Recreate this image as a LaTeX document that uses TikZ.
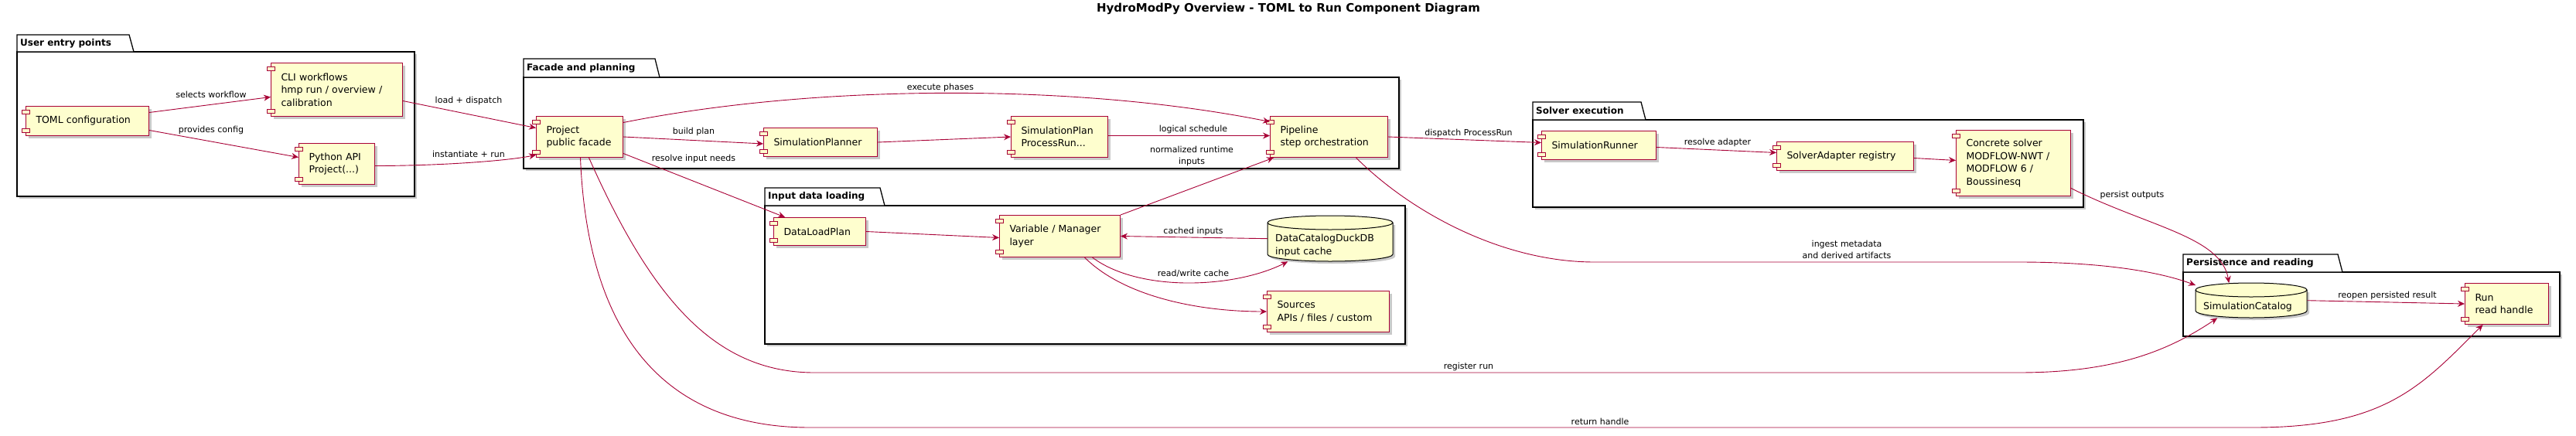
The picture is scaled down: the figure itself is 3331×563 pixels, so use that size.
\documentclass[tikz,border=0pt]{standalone}
\usepackage{fontspec}
\setmainfont{DejaVu Sans}
\usetikzlibrary{arrows.meta,shadows,calc}
\definecolor{pborder}{HTML}{A80036}
\definecolor{pfill}{HTML}{FEFECE}
\tikzset{
  shd/.style={drop shadow={shadow xshift=3pt,shadow yshift=-3pt,opacity=.35,fill=black!60}},
  comp/.style={draw=pborder,fill=pfill,line width=1pt,shd,inner xsep=13pt,inner ysep=0pt,align=left,
     font=\fontsize{12.5}{16.5}\selectfont},
  stub/.style={draw=pborder,fill=pfill,line width=.8pt},
  dbs/.style={draw=black,fill=pfill,line width=1pt},
  pk/.style={draw=black,fill=white,line width=1.3pt},
  lbl/.style={font=\fontsize{11}{15}\selectfont,align=center,inner sep=0pt},
  ar/.style={draw=pborder,line width=.9pt,-{Stealth[length=9pt,width=8pt,inset=3pt]}},
  pt/.style={font=\bfseries\fontsize{12}{14}\selectfont,anchor=west,inner sep=0pt}
}
\newcommand{\comp}[6]{%
  \node[comp,anchor=north west,minimum width={(#4-#2)*1pt},minimum height={(#5-#3)*1pt},
        text width={(#4-#2-26)*1pt}] (#1) at (#2,#3) {#6};
  \draw[stub] ($(#1.north west)+(-5pt,-5pt)$) rectangle ($(#1.north west)+(5pt,-10pt)$);
  \draw[stub] ($(#1.south west)+(-5pt,10pt)$) rectangle ($(#1.south west)+(5pt,5pt)$);
}
\newcommand{\dbnode}[7]{% name x1 y1 x2 y2 text shift
  \pgfmathsetmacro{\rx}{(#4-#2)/2}
  \fill[black!60,opacity=.35] (#2+3,#3+12) -- (#2+3,#5-6) arc[start angle=180,end angle=360,x radius=\rx pt,y radius=9pt] -- (#4+3,#3+12) -- cycle;
  \draw[dbs] (#2,#3+9) -- (#2,#5-9) arc[start angle=180,end angle=360,x radius=\rx pt,y radius=9pt]
     -- (#4,#3+9) arc[start angle=0,end angle=180,x radius=\rx pt,y radius=9pt] -- cycle;
  \draw[dbs,fill=none] (#2,#3+9) arc[start angle=180,end angle=360,x radius=\rx pt,y radius=9pt];
  \node[inner sep=0pt,anchor=north west,minimum width={(#4-#2)*1pt},minimum height={(#5-#3)*1pt}] (#1) at (#2,#3) {};
  \node[align=left,inner sep=0pt,font=\fontsize{12.5}{16.5}\selectfont,anchor=west] at ($(#1.west)+(10pt,-#7pt)$) {#6};
}
\newcommand{\pkg}[7]{% x1 ytab ytop x2 y2 xtab title
  \draw[pk,shd] (#1,#3) rectangle (#4,#5);
  \draw[pk] (#1,#3) -- (#1,#2) -- (#6-6,#2) -- (#6,#3) -- cycle;
  \node[pt] at (#1+4,{(#2+#3)/2}) {#7};
}
\begin{document}
\begin{tikzpicture}[x=1pt,y=-1pt]
\useasboundingbox (0,0) rectangle (3331,563);
\node[font=\bfseries\fontsize{15}{18}\selectfont] (title) at (1666,11) {HydroModPy Overview - TOML to Run Component Diagram};

\pkg{22}{45}{67}{536}{254}{173}{User entry points}
\pkg{677}{76}{100}{1809}{218}{853}{Facade and planning}
\pkg{989}{243}{266}{1817}{445}{1144}{Input data loading}
\pkg{1982}{132}{155}{2694}{268}{2128}{Solver execution}
\pkg{2823}{329}{352}{3310}{435}{3029}{Persistence and reading}

\comp{toml}{33}{137}{192}{175}{TOML configuration}
\comp{cli}{350}{81}{520}{150}{CLI workflows\\hmp run / overview /\\calibration}
\comp{py}{386}{185}{484}{238}{Python API\\Project(...)}
\comp{proj}{693}{150}{805}{203}{Project\\public facade}
\comp{plnr}{987}{165}{1134}{202}{SimulationPlanner}
\comp{splan}{1307}{150}{1432}{203}{SimulationPlan\\ProcessRun...}
\comp{pipe}{1642}{150}{1794}{203}{Pipeline\\step orchestration}
\comp{dlp}{1000}{281}{1119}{317}{DataLoadPlan}
\comp{var}{1292}{278}{1448}{332}{Variable / Manager\\layer}
\dbnode{duck}{1639}{279}{1801}{338}{DataCatalogDuckDB\\input cache}{9}
\comp{src}{1638}{376}{1796}{429}{Sources\\APIs / files / custom}
\comp{runner}{1993}{169}{2141}{206}{SimulationRunner}
\comp{adapt}{2297}{183}{2474}{220}{SolverAdapter registry}
\comp{solver}{2529}{168}{2677}{253}{Concrete solver\\MODFLOW-NWT /\\MODFLOW 6 /\\Boussinesq}
\dbnode{cat}{2839}{366}{2983}{411}{SimulationCatalog}{8}
\comp{run}{3187}{366}{3295}{419}{Run\\read handle}

\coordinate (ing1) at (2062,339);
\coordinate (ing2) at (2610,339);
\coordinate (reg1) at (1053,482);
\coordinate (reg2) at (2610,482);
\coordinate (ret1) at (1047,553);
\coordinate (ret2) at (2914,553);

\draw[ar] ([yshift=11pt]toml.east) -- ([yshift=-9.5pt]cli.west);
\draw[ar] ([yshift=-12pt]toml.east) -- ([yshift=8.5pt]py.west);
\draw[ar] ([yshift=-14.5pt]cli.east) -- ([yshift=11.5pt]proj.west);
\draw[ar] ([yshift=-2.5pt]py.east) .. controls +(80pt,0pt) and +(-40pt,-8pt) .. ([yshift=-23.5pt]proj.west);
\draw[ar] (proj.east) -- ([yshift=-2pt]plnr.west);
\draw[ar] (plnr.east) -- (splan.west);
\draw[ar] ([yshift=1.5pt]splan.east) -- ([yshift=1.5pt]pipe.west);
\draw[ar] ([yshift=18.5pt]proj.east) .. controls +(250pt,50pt) and +(-250pt,50pt) .. ([yshift=19.5pt]pipe.west);
\draw[ar] ([yshift=-21.5pt]proj.east) -- ([xshift=15pt]dlp.north west);
\draw[ar] (dlp.east) -- ([yshift=-2pt]var.west);
\draw[ar] (duck.west) -- (var.east);
\draw[ar] ([xshift=42pt]var.south) .. controls +(60pt,-45pt) and +(-70pt,-35pt) .. ([xshift=-55pt]duck.south);
\draw[ar] ([xshift=32pt]var.south) .. controls +(50pt,-50pt) and +(-90pt,0pt) .. (src.west);
\draw[ar] (var.north east) -- ([xshift=5pt]pipe.south west);
\draw[ar] (pipe.east) -- ([yshift=3.5pt]runner.west);
\draw[ar] ([yshift=-2.5pt]runner.east) -- ([yshift=4.5pt]adapt.west);
\draw[ar] ([yshift=-2.5pt]adapt.east) -- ([yshift=3.5pt]solver.west);
\draw[ar] ([yshift=-32.5pt]solver.east) .. controls +(100pt,-50pt) and +(-10pt,60pt) .. ([xshift=-29pt]cat.north);
\draw[ar] ([xshift=35pt]pipe.south) .. controls +(70pt,-70pt) and +(-120pt,0pt) .. (ing1) -- (ing2)
   .. controls +(120pt,0pt) and +(-40pt,15pt) .. ([yshift=-3pt]cat.north west);
\draw[ar] ([xshift=12pt]proj.south) .. controls +(80pt,-180pt) and +(-130pt,0pt) .. (reg1) -- (reg2)
   .. controls +(130pt,0pt) and +(-60pt,-40pt) .. ([xshift=-44pt]cat.south);
\draw[ar] ([xshift=1pt]proj.south) .. controls +(10pt,-250pt) and +(-170pt,0pt) .. (ret1) -- (ret2)
   .. controls +(170pt,0pt) and +(-80pt,-80pt) .. ([xshift=-31pt]run.south);
\draw[ar] (cat.east) -- (run.west);

\node[lbl] (l1) at (273,122) {selects workflow};
\node[lbl] (l2) at (273,168) {provides config};
\node[lbl] (l3) at (606,130) {load + dispatch};
\node[lbl] (l4) at (606,199) {instantiate + run};
\node[lbl] (l5) at (897,170) {build plan};
\node[lbl] (l6) at (897,205) {resolve input needs};
\node[lbl] (l7) at (1216,113) {execute phases};
\node[lbl] (l8) at (1543,167) {logical schedule};
\node[lbl] (l9) at (1541,202) {normalized runtime\\inputs};
\node[lbl] (l10) at (1543,299) {cached inputs};
\node[lbl] (l11) at (1543,354) {read/write cache};
\node[lbl] (l12) at (1899,172) {dispatch ProcessRun};
\node[lbl] (l13) at (2221,184) {resolve adapter};
\node[lbl] (l14) at (2757,252) {persist outputs};
\node[lbl] (l15) at (2388,323) {ingest metadata\\and derived artifacts};
\node[lbl] (l16) at (1899,474) {register run};
\node[lbl] (l17) at (2069,545) {return handle};
\node[lbl] (l18) at (3087,382) {reopen persisted result};
\end{tikzpicture}
\end{document}
